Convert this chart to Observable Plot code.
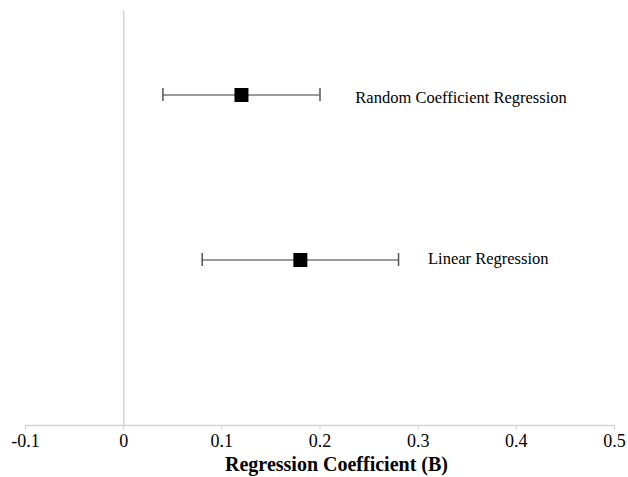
<!DOCTYPE html>
<html>
<head>
<meta charset="utf-8">
<script src="https://cdn.jsdelivr.net/npm/d3@7"></script>
<script src="https://cdn.jsdelivr.net/npm/@observablehq/plot@0.6"></script>
<style>
  html, body { margin: 0; padding: 0; background: #fff; }
</style>
</head>
<body>
<div id="chart"></div>
<script>
const models = ["Random Coefficient Regression", "Linear Regression"];
const estimates = [0.12, 0.18];
const lower = [0.04, 0.08];
const upper = [0.20, 0.28];
const labelX = [0.236, 0.31];
const xTicks = [-0.1, 0, 0.1, 0.2, 0.3, 0.4, 0.5];
const axisTitle = "Regression Coefficient (B)";

const data = models.map((m, i) => ({model: m, est: estimates[i], lo: lower[i], hi: upper[i], lx: labelX[i]}));

const font = "'Liberation Serif', 'Times New Roman', serif";

const chart = Plot.plot({
  width: 628,
  height: 477,
  marginLeft: 25,
  marginRight: 14,
  marginTop: 10,
  marginBottom: 52,
  style: {fontFamily: font, background: "#fff", color: "#000"},
  x: {domain: [-0.1, 0.5], ticks: xTicks, tickFormat: d => d === 0 ? "0" : String(d)},
  y: {type: "band", domain: models, range: [11.5, 341.5], padding: 0, axis: null},
  marks: [
    Plot.ruleX([0], {stroke: "#d4d4d4", strokeWidth: 1.5}),
    Plot.frame({anchor: "bottom", stroke: "#d4d4d4", strokeWidth: 1.5}),
    Plot.axisX({
      ticks: xTicks,
      tickFormat: d => d === 0 ? "0" : String(d),
      tickSize: 5,
      tickPadding: 4,
      stroke: "#d4d4d4",
      fontSize: 18,
      fill: "#000",
      label: null
    }),
    Plot.ruleY(data, {y: "model", x1: "lo", x2: "hi", stroke: "#7a7a7a", strokeWidth: 1.5}),
    Plot.tickX(data, {x: "lo", y: "model", stroke: "#555", strokeWidth: 1.5, inset: 76}),
    Plot.tickX(data, {x: "hi", y: "model", stroke: "#555", strokeWidth: 1.5, inset: 76}),
    Plot.dot(data, {x: "est", y: "model", symbol: "square", fill: "#000", r: 7.9}),
    Plot.text(data.filter((d, i) => i === 0), {x: "lx", y: "model", text: "model", textAnchor: "start", lineAnchor: "middle", fontSize: 16.5, dy: 2.5, fill: "#000"}),
    Plot.text(data.filter((d, i) => i === 1), {x: "lx", y: "model", text: "model", textAnchor: "start", lineAnchor: "middle", fontSize: 16.5, dy: -1, fill: "#000"}),
    Plot.text([axisTitle], {frameAnchor: "bottom", text: d => d, lineAnchor: "middle", dy: 39, dx: 16.5, fontSize: 20, fontWeight: "bold", fill: "#000"})
  ]
});

document.getElementById("chart").appendChild(chart);
</script>
</body>
</html>
